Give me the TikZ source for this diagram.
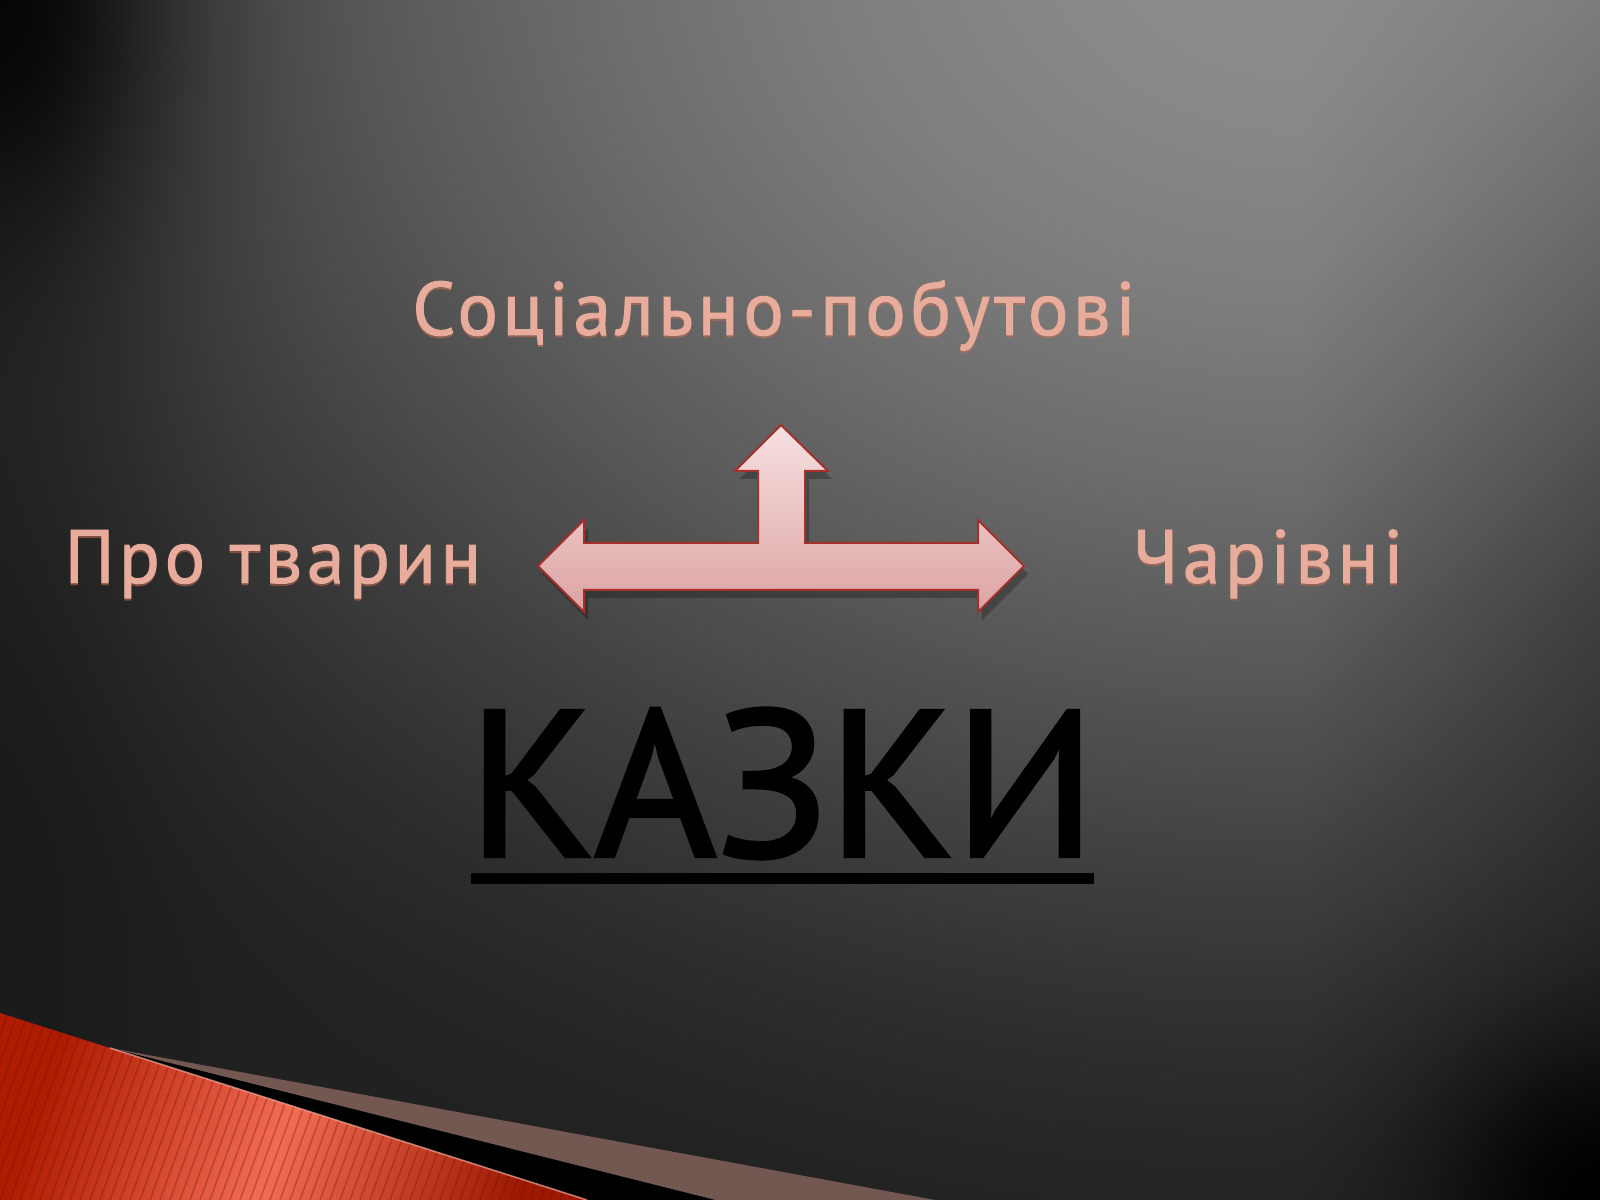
\documentclass[tikz,border=0pt]{standalone}
\usepackage{fontspec}
\usepackage{tikz}
\usetikzlibrary{calc,positioning}
\newfontfamily\kindfont[LetterSpace=6,FakeBold=1.2]{PT Sans}
\newfontfamily\titlefont[FakeBold=2]{PT Sans}
\definecolor{kindpink}{HTML}{E8AC9C}
\definecolor{kindglow}{HTML}{D2704F}
\definecolor{arrowtop}{HTML}{F7E1E1}
\definecolor{arrowbot}{HTML}{DCA2A2}
\definecolor{arrowrim}{HTML}{A3302C}
\definecolor{stripered}{HTML}{B01C02}
\definecolor{stripelight}{HTML}{F26C54}
\definecolor{stripebrown}{HTML}{735852}

% grey slide background, light in the upper right
\pgfdeclarefunctionalshading{slidebg}{\pgfpoint{0bp}{0bp}}{\pgfpoint{400bp}{300bp}}{}{
  2 copy
  320 sub dup mul exch 325 sub 1.25 div dup mul add
  122500 div 1 exch sub dup 0 lt {pop 0} if dup mul 0.42 mul 0.13 add
  2 index dup mul 1806 div neg 2.71828 exch exp
  2 index 300 exch sub dup mul 3906 div neg 2.71828 exch exp 0.7 mul 0.2 add
  mul 1 exch sub mul
  2 index 400 exch sub dup mul 2 index dup mul add 1406 div neg 2.71828 exch exp 1 exch sub mul
  2 index 325 sub 75 div dup 0 lt {pop 0} if
  2 index 350 exch sub 200 div dup 1 gt {pop 1} if
  mul 0.3 mul 1 exch sub mul
  exch pop exch pop dup dup
}

\newcommand{\forkpath}{(538,566) -- (584,520) -- (584,543) -- (758,543)
  -- (758,471) -- (735,471) -- (781,425) -- (828,471) -- (805,471)
  -- (805,543) -- (978,543) -- (978,520) -- (1024,566) -- (978,612)
  -- (978,590) -- (584,590) -- (584,612) -- cycle}

\begin{document}
\begin{tikzpicture}[x=0.25bp,y=-0.25bp,
  kind/.style={font=\kindfont\fontsize{19}{23}\selectfont, text=kindpink,
    inner sep=0pt, anchor=base},
  kindshadow/.style={kind, text=kindglow, opacity=0.4},
  arrowbody/.style={top color=arrowtop, bottom color=arrowbot,
    draw=arrowrim, line width=0.5bp, line join=miter}]
  \useasboundingbox (0,0) rectangle (1600,1200);
  \node[inner sep=0pt, outer sep=0pt, anchor=north west] (bg) at (0,0) {\pgfuseshading{slidebg}};

  % bands in the lower left corner
  \coordinate(S0) at (0,1013);
  \coordinate(S1) at (110,1048);
  \coordinate(R1) at (587,1200);
  \coordinate(K1) at (715,1200);
  \coordinate(B1) at (935,1200);
  \fill[stripebrown] (S1)--(B1)--(K1)--cycle;
  \fill[black] (S1)--(K1)--(R1)--cycle;
  \shade[left color=stripered, right color=stripered!90!black, middle color=stripelight,
    shading angle=70] (S0)--(R1)--(0,1200)--cycle;
  \begin{scope}
    \clip (S0)--(R1)--(0,1200)--cycle;
    \foreach \i in {-100,-90,...,640}
      \draw[stripered!60!black, opacity=0.3, line width=0.4bp] (\i,1200)--++(80,-220);
  \end{scope}
  \draw[stripelight!60!white, opacity=0.7, line width=0.4bp] (S1)--(R1);

  % three way arrow
  \fill[black, opacity=0.25, shift={(4,8)}] \forkpath;
  \path[arrowbody] \forkpath;

  % kinds of tales
  \node[kindshadow] (socialglow) at (774,337) {Соціально-побутові};
  \node[kind] (social) at (774,335) {Соціально-побутові};
  \node[kindshadow] (animalsglow) at (273,585) {Про тварин};
  \node[kind] (animals) at (273,583) {Про тварин};
  \node[kindshadow] (magicglow) at (1268,585) {Чарівні};
  \node[kind] (magic) at (1268,583) {Чарівні};

  \node[font=\titlefont\fontsize{52}{60}\selectfont, text=black, inner sep=0pt,
    anchor=base] (tales) at (782,856) {КАЗКИ};
  \draw[line width=2.75bp] (471,878.5)--(1094,878.5);
\end{tikzpicture}
\end{document}
